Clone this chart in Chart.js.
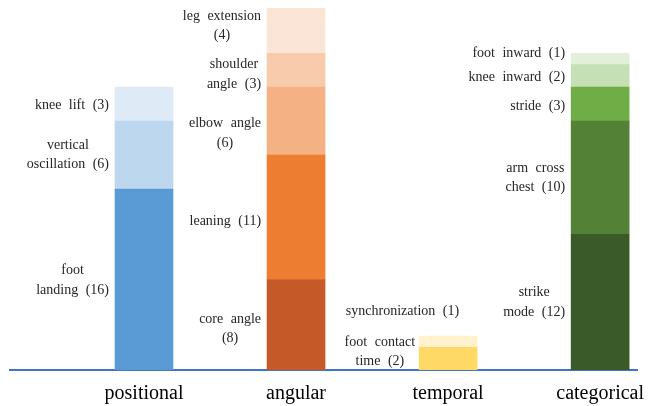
<!DOCTYPE html>
<html>
<head>
<meta charset="utf-8">
<script src="https://cdn.jsdelivr.net/npm/chart.js@4.4.1/dist/chart.umd.min.js"></script>
<style>
  html, body { margin: 0; padding: 0; background: #fff; }
  #wrap { width: 658px; height: 406px; }
</style>
</head>
<body>
<div id="wrap"><canvas id="c" width="658" height="406"></canvas></div>
<script>
// categories along the bottom
var categories = ['positional', 'angular', 'temporal', 'categorical'];

// segments of each bar, bottom to top ("\n" marks a line break in the label)
var positionalNames = ['foot\nlanding', 'vertical\noscillation', 'knee lift'];
var positionalValues = [16, 6, 3];
var angularNames = ['core angle\n', 'leaning', 'elbow angle\n', 'shoulder\nangle', 'leg extension\n'];
var angularValues = [8, 11, 6, 3, 4];
var temporalNames = ['foot contact\ntime', 'synchronization'];
var temporalValues = [2, 1];
var categoricalNames = ['strike\nmode', 'arm cross\nchest', 'stride', 'knee inward', 'foot inward'];
var categoricalValues = [12, 10, 3, 2, 1];

var positionalColors = ['#5B9BD5', '#BDD7EE', '#DEEBF7'];
var angularColors = ['#C55A28', '#ED7D31', '#F4B183', '#F8CBAD', '#FBE5D6'];
var temporalColors = ['#FFD966', '#FFF2CC'];
var categoricalColors = ['#3A5A2A', '#538135', '#70AD47', '#C5E0B4', '#E2F0D9'];

// little nudges for label placement (px), like the hand-placed boxes in the original
var labelNudgeY = [[1, 0, 1], [4, 4, 12, 4, -5], [-7, -30], [0, 0, 2, 1, -6]];
var labelNudgeX = [[0, 0, 0], [0, 0, 0, 0, 0], [2, 46], [0, 0, 0, 0, 0]];

var groups = [
    { names: positionalNames, values: positionalValues, colors: positionalColors },
    { names: angularNames, values: angularValues, colors: angularColors },
    { names: temporalNames, values: temporalValues, colors: temporalColors },
    { names: categoricalNames, values: categoricalValues, colors: categoricalColors }
];

var datasets = [];
groups.forEach(function (g, ci) {
    g.values.forEach(function (v, si) {
        var name = g.names[si];
        var text = name + (name.slice(-1) === '\n' ? '' : ' ') + '(' + v + ')';
        datasets.push({
            label: text,
            data: [{ x: ci, y: v }],
            backgroundColor: g.colors[si],
            borderWidth: 0,
            barThickness: 58,
            segLabel: text,
            nudgeX: labelNudgeX[ci][si],
            nudgeY: labelNudgeY[ci][si]
        });
    });
});

var serif = '"Liberation Serif", "Times New Roman", serif';

var segmentLabels = {
    id: 'segmentLabels',
    afterDatasetsDraw: function (chart) {
        var ctx = chart.ctx;
        ctx.save();
        ctx.font = '14px ' + serif;
        ctx.fillStyle = '#262626';
        ctx.textAlign = 'center';
        ctx.textBaseline = 'middle';
        if ('wordSpacing' in ctx) ctx.wordSpacing = '4px';
        var lineH = 19.5;
        chart.data.datasets.forEach(function (ds, i) {
            var bar = chart.getDatasetMeta(i).data[0];
            if (!bar) return;
            var lines = ds.segLabel.split('\n');
            var w = 0;
            lines.forEach(function (l) { w = Math.max(w, ctx.measureText(l).width); });
            var left = bar.x - bar.width / 2;
            var cx = left - 6 - w / 2 + ds.nudgeX;
            var cy = (bar.y + bar.base) / 2 + ds.nudgeY;
            var y0 = cy - (lines.length - 1) * lineH / 2;
            lines.forEach(function (l, k) {
                ctx.fillText(l, cx, y0 + k * lineH);
            });
        });
        ctx.restore();
    }
};

new Chart(document.getElementById('c'), {
    type: 'bar',
    data: { datasets: datasets },
    options: {
        responsive: false,
        animation: false,
        layout: { padding: { left: 10, right: 21, top: 8, bottom: 1 } },
        plugins: {
            legend: { display: false },
            tooltip: { enabled: false }
        },
        scales: {
            x: {
                type: 'linear',
                stacked: true,
                offset: false,
                min: -0.8813,
                max: 3.2424,
                grid: { display: false, offset: false, drawTicks: false },
                border: { display: true, color: '#4472C4', width: 2 },
                afterBuildTicks: function (scale) {
                    scale.ticks = categories.map(function (c, i) { return { value: i }; });
                },
                afterFit: function (scale) {
                    scale.height = 35;
                },
                ticks: {
                    padding: 12,
                    maxRotation: 0,
                    minRotation: 0,
                    autoSkip: false,
                    color: '#000',
                    font: { family: serif, size: 20 },
                    callback: function (v) { return categories[v]; }
                }
            },
            y: {
                stacked: true,
                display: false,
                min: 0,
                max: 32
            }
        }
    },
    plugins: [segmentLabels]
});
</script>
</body>
</html>
